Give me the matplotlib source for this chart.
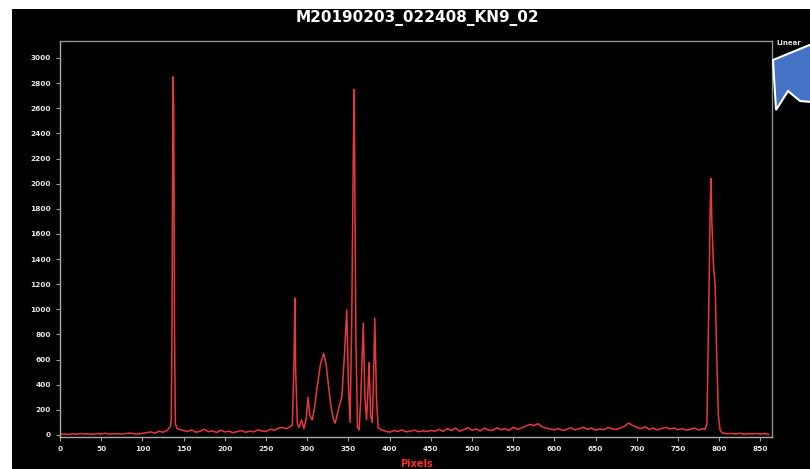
import matplotlib.pyplot as plt
from matplotlib.patches import Polygon, Rectangle

title = "M20190203_022408_KN9_02"

# profile along the slit: pixel position -> intensity
pixels = [0, 5, 10, 15, 20, 25, 30, 35, 40, 45, 50, 55, 60, 65, 70, 75, 80, 85, 90, 95, 100,
          105, 110, 115, 120, 125, 130, 132, 134, 135, 136, 137, 138, 139, 140, 142, 145,
          150, 155, 160, 165, 170, 175, 180, 185, 190, 195, 200, 205, 210, 215, 220, 225,
          230, 235, 240, 245, 250, 255, 260, 265, 270, 275, 280,
          282, 284, 285, 286, 288, 290, 293, 296, 299, 301, 303, 306, 309, 312, 316, 320,
          323, 326, 329, 332, 334, 337, 340, 342, 345, 348, 350, 352, 354, 356, 357, 359,
          361, 363, 365, 368, 370, 372, 374, 375, 377, 379, 381, 382, 384, 386, 390,
          395, 400, 405, 410, 415, 420, 425, 430, 435, 440, 445, 450,
          455, 460, 465, 470, 475, 480, 485, 490, 495, 500, 505, 510, 515, 520, 525, 530,
          535, 540, 545, 550, 555, 560, 565, 570, 575, 580, 585, 590, 595, 600, 605, 610,
          615, 620, 625, 630, 635, 640, 645, 650, 655, 660, 665, 670, 675, 680, 685, 690,
          695, 700, 705, 710, 715, 720, 725, 730, 735, 740, 745, 750, 755, 760, 765, 770,
          775, 780, 783, 785, 787, 789, 790, 791, 793, 795, 797, 799, 801, 803,
          805, 810, 815, 820, 825, 830, 835, 840, 845, 850, 855, 860]
intensity = [5, 8, 4, 10, 6, 12, 7, 9, 5, 11, 8, 14, 6, 10, 9, 7, 12, 15, 10, 8, 13,
             18, 25, 14, 30, 22, 35, 55, 70, 120, 900, 2850, 2600, 800, 90, 50, 45,
             35, 28, 40, 22, 30, 45, 26, 33, 20, 38, 24, 30, 18, 27, 35, 22,
             30, 25, 40, 32, 28, 45, 38, 55, 60, 50, 70,
             80, 600, 1090, 500, 90, 60, 120, 50, 140, 300, 160, 120, 220, 380, 560, 650,
             560, 380, 220, 120, 95, 180, 260, 300, 620, 995, 400, 100, 900, 2300, 2750, 800,
             60, 40, 300, 890, 300, 120, 400, 575, 150, 100, 600, 930, 300, 60, 40,
             30, 22, 35, 28, 40, 25, 30, 38, 26, 33, 28, 35,
             30, 45, 28, 50, 35, 55, 30, 42, 60, 38, 48, 32, 55, 40, 35, 58,
             42, 50, 36, 62, 45, 55, 70, 85, 75, 90, 65, 55, 48, 40, 52, 35,
             45, 58, 40, 50, 62, 45, 55, 38, 48, 42, 60, 50, 45, 55, 70, 95,
             75, 60, 50, 65, 45, 55, 40, 52, 60, 48, 55, 42, 50, 38, 45, 55,
             40, 50, 45, 90, 900, 1800, 2040, 1700, 1340, 1200, 600, 150, 40, 20,
             15, 10, 12, 8, 14, 6, 10, 9, 12, 7, 11, 5]

x_ticks = list(range(0, 851, 50))
y_ticks = list(range(0, 3001, 200))

fig = plt.figure(figsize=(8.1, 4.69), dpi=100, facecolor='black')
ax = fig.add_axes([60 / 810, 1 - 437 / 469, 712 / 810, 396 / 469])
ax.set_facecolor('black')

ax.plot(pixels, intensity, color='#e8383d', linewidth=1.1)

ax.set_xlim(0, 864)
ax.set_ylim(-16, 3135)
ax.set_xticks(x_ticks)
ax.set_yticks(y_ticks)
ax.tick_params(colors='#999999', labelcolor='#e6e6e6', labelsize=5.3, length=3, width=0.8)
for lbl in ax.get_xticklabels() + ax.get_yticklabels():
    lbl.set_fontweight('bold')

ax.spines['left'].set_color('#aaaaaa')
ax.spines['bottom'].set_color('#aaaaaa')
ax.spines['top'].set_color('#7f9a86')
ax.spines['right'].set_color('#7f9a86')
for s in ax.spines.values():
    s.set_linewidth(1.0)

fig.text(417 / 810, 1 - 18 / 469, title, color='white', fontsize=11,
         fontweight='bold', ha='center', va='center')
fig.text(416 / 810, 1 - 464 / 469, "Pixels", color='#ff2a2a', fontsize=7,
         fontweight='bold', ha='center', va='center')
fig.text(776 / 810, 1 - 43 / 469, "Linear", color='#dddddd', fontsize=5,
         fontweight='bold', ha='left', va='center')

# white margins of the screenshot
fig.patches.append(Rectangle((0, 0), 12 / 810, 1, transform=fig.transFigure,
                             facecolor='white', edgecolor='none', zorder=5))
fig.patches.append(Rectangle((0, 1 - 9 / 469), 1, 9 / 469, transform=fig.transFigure,
                             facecolor='white', edgecolor='none', zorder=5))

# blue callout arrow at the top right
arrow_pts = [(773, 60), (812, 44), (812, 102), (800, 101), (788, 91), (776, 110)]
fig.patches.append(Polygon([(x / 810, 1 - y / 469) for x, y in arrow_pts],
                           closed=True, transform=fig.transFigure,
                           facecolor='#4472c4', edgecolor='white', linewidth=1.5, zorder=6))

fig.savefig('out.png', dpi=100, facecolor='black')
